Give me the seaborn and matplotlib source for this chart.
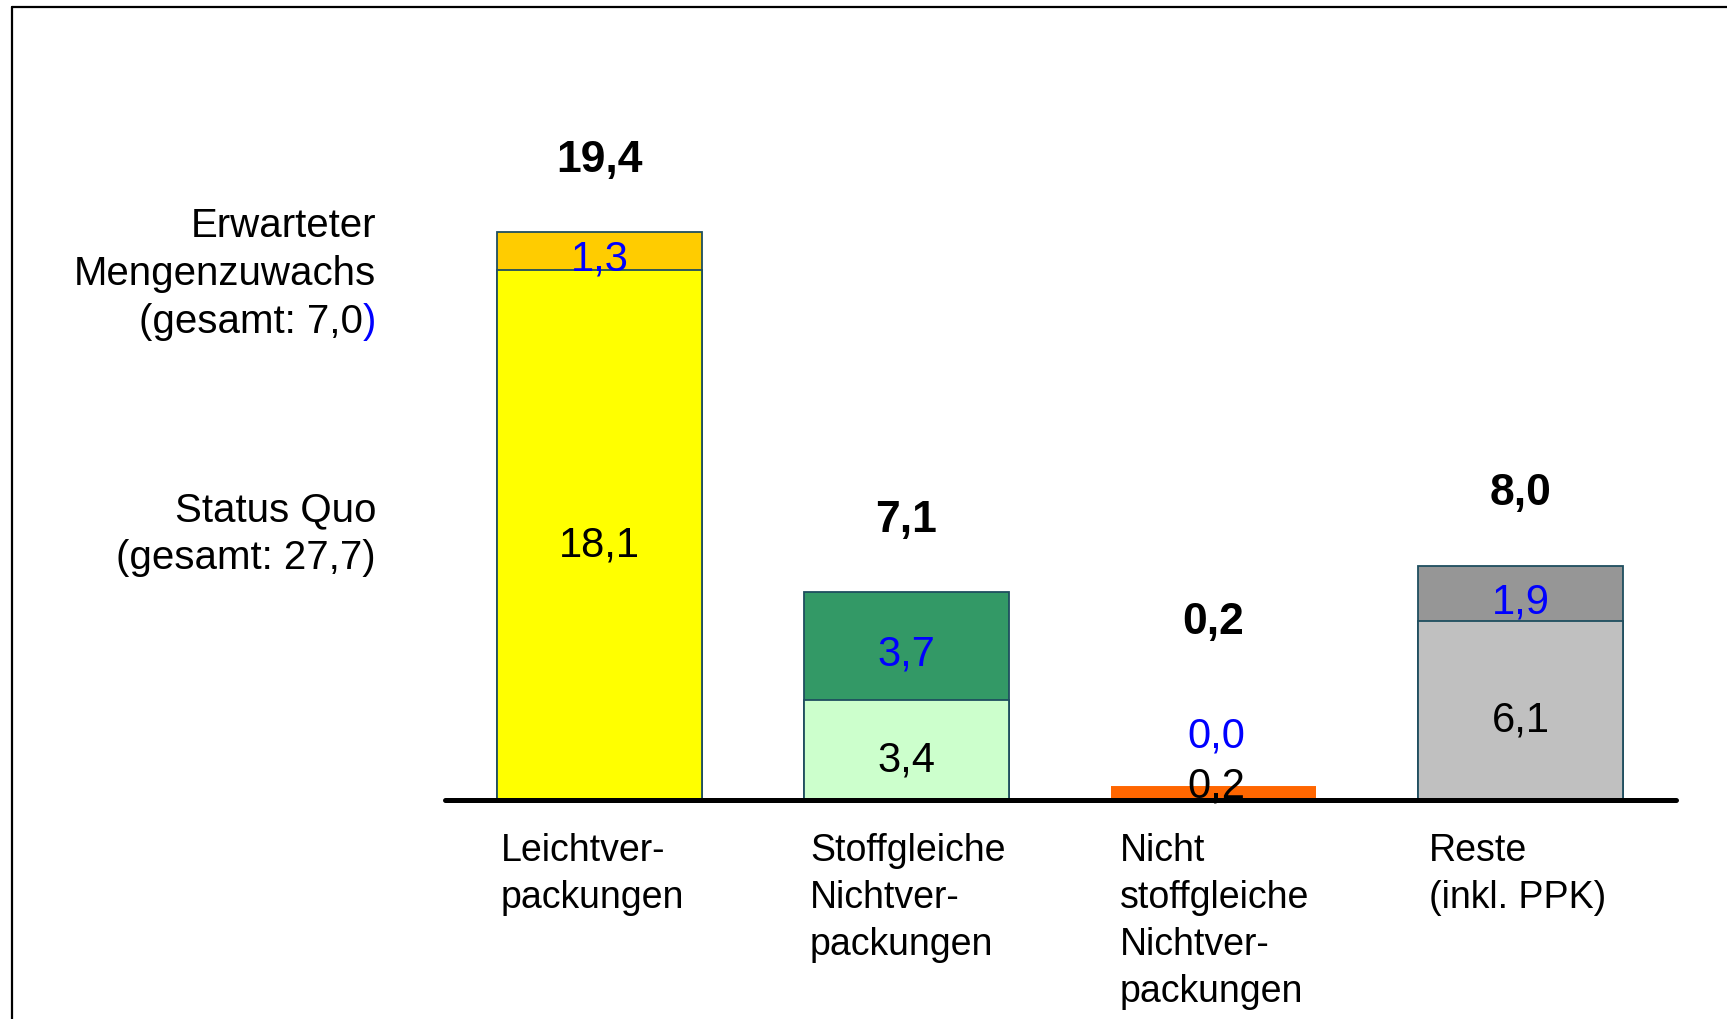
import matplotlib
matplotlib.use("Agg")
import matplotlib.pyplot as plt
from matplotlib.lines import Line2D
from matplotlib.patches import Rectangle
import seaborn as sns
import pandas as pd

categories = ["Leichtver-\npackungen", "Stoffgleiche\nNichtver-\npackungen",
              "Nicht\nstoffgleiche\nNichtver-\npackungen", "Reste\n(inkl. PPK)"]
status_quo = [18.1, 3.4, 0.2, 6.1]
zuwachs = [1.3, 3.7, 0.0, 1.9]
gesamt = [19.4, 7.1, 0.2, 8.0]
gesamt_zuwachs = 7.0
gesamt_status = 27.7

sq_colors = ["#FFFF00", "#CCFFCC", "#FF6600", "#C0C0C0"]
zw_colors = ["#FFCC00", "#339966", "#FF6600", "#969696"]
edge = "#1F4E5F"
blue = "#0000FF"
bar_w = 0.668


def fmt(v):
    return f"{v:.1f}".replace(".", ",")


sns.set_theme(style="white")
plt.rcParams["font.family"] = ["Liberation Sans", "DejaVu Sans"]
plt.rcParams["text.color"] = "black"

df = pd.DataFrame({"kat": categories,
                   "oben": [s + z for s, z in zip(status_quo, zuwachs)],
                   "unten": status_quo})

fig = plt.figure(figsize=(17.27, 10.20), dpi=100)
ax = fig.add_axes([0, 0, 1, 1])

# stacked bars: full height in growth colour, status quo drawn over it
sns.barplot(data=df, x="kat", y="oben", hue="kat", palette=zw_colors, saturation=1,
            width=bar_w, edgecolor=edge, linewidth=1.3, legend=False, ax=ax)
sns.barplot(data=df, x="kat", y="unten", hue="kat", palette=sq_colors, saturation=1,
            width=bar_w, edgecolor=edge, linewidth=1.3, legend=False, ax=ax)

# the tiny orange bar: no dark outline, shown with a minimum visible height
for p in (ax.patches[2], ax.patches[6]):
    clip = Rectangle((p.get_x(), 0), p.get_width(), 40, transform=ax.transData)
    p.set_edgecolor("#FF6600")
    p.set_linewidth(12)
    p.set_clip_path(clip)

ax.hlines(0, -0.503, 3.507, color="black", lw=3.6, capstyle="round", zorder=5)

ax.set_xlim(-1.953, 3.673)
ax.set_ylim(-7.49, 27.38)
ax.axis("off")

for i in range(len(categories)):
    sq, zw = status_quo[i], zuwachs[i]
    if sq >= 0.5:
        ax.text(i, sq / 2 - 0.15, fmt(sq), ha="center", va="center_baseline",
                fontsize=30, zorder=6)
        ax.text(i, sq + zw / 2 - 0.1, fmt(zw), ha="center", va="center_baseline",
                fontsize=30, color=blue, zorder=6)
        ax.text(i, gesamt[i] + 2.65, fmt(gesamt[i]), ha="center", va="center_baseline",
                fontsize=32, fontweight="bold")
    else:
        ax.text(i + 0.01, 0.65, fmt(sq), ha="center", va="center_baseline",
                fontsize=30, zorder=6)
        ax.text(i + 0.01, 2.35, fmt(zw), ha="center", va="center_baseline",
                fontsize=30, color=blue, zorder=6)
        ax.text(i, 6.25, fmt(gesamt[i]), ha="center", va="center_baseline",
                fontsize=32, fontweight="bold")
    ax.text(i - 0.322 + 0.008 * i, -1.1, categories[i], ha="left", va="top",
            fontsize=27, linespacing=1.39)

# row labels on the left
lx = -0.728
ax.text(lx, 19.78, "Erwarteter", ha="right", va="center_baseline", fontsize=29)
ax.text(lx, 18.16, "Mengenzuwachs", ha="right", va="center_baseline", fontsize=29)
paren = ax.text(lx, 16.5, ")", ha="right", va="center_baseline", fontsize=29, color=blue)
fig.canvas.draw()
w_pt = paren.get_window_extent(fig.canvas.get_renderer()).width * 72 / fig.dpi
ax.annotate(f"(gesamt: {fmt(gesamt_zuwachs)}", xy=(lx, 16.5), xytext=(-w_pt, 0),
            textcoords="offset points", ha="right", va="center_baseline", fontsize=29)
ax.text(lx, 10.06, "Status Quo", ha="right", va="center_baseline", fontsize=29)
ax.text(lx, 8.44, f"(gesamt: {fmt(gesamt_status)})", ha="right", va="center_baseline",
        fontsize=29)

# frame (top and left edges visible)
fig.add_artist(Line2D([12 / 1727, 1], [1 - 8 / 1020] * 2, transform=fig.transFigure,
                      color="black", lw=1.6))
fig.add_artist(Line2D([12 / 1727] * 2, [0, 1 - 8 / 1020], transform=fig.transFigure,
                      color="black", lw=1.6))

fig.savefig("out.png", dpi=100)
